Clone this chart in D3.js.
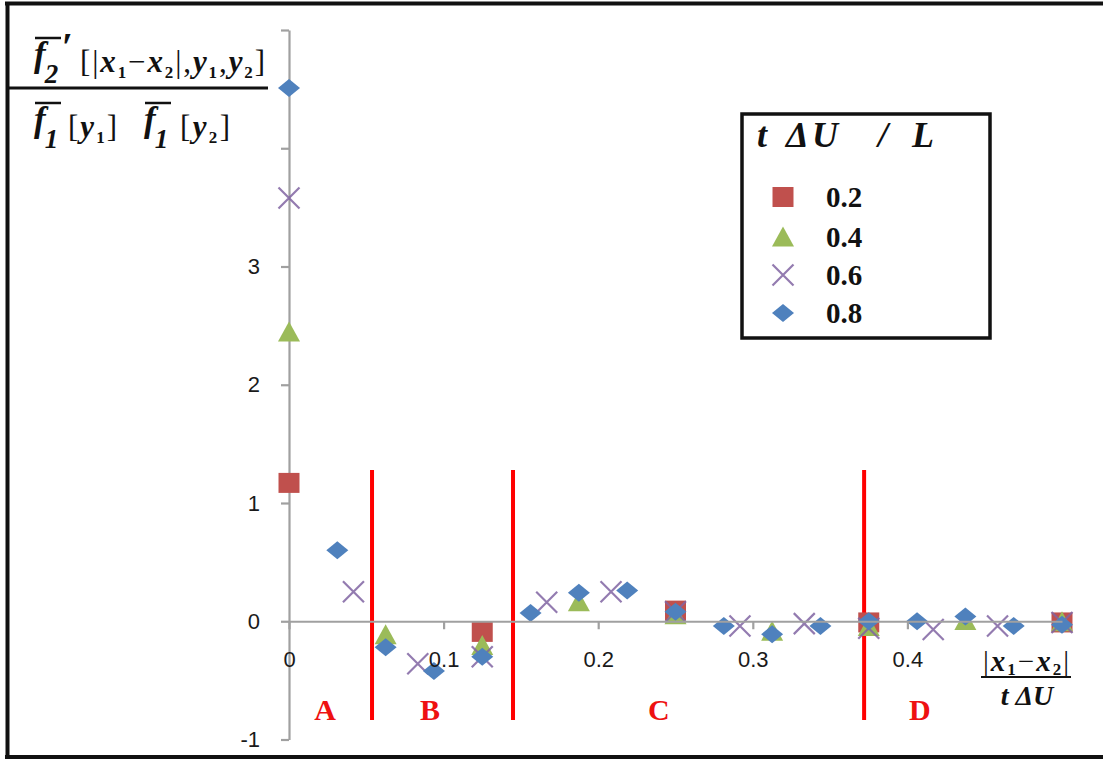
<!DOCTYPE html>
<html>
<head>
<meta charset="utf-8">
<script src="https://cdn.jsdelivr.net/npm/d3@7"></script>
<style>
  body { margin: 0; background: #fff; }
  svg { display: block; }
  text { font-family: "Liberation Serif", "Times New Roman", serif; }
  .tick text { font-family: "Liberation Sans", Arial, sans-serif; }
</style>
</head>
<body>
<svg id="chart" width="1103" height="759"></svg>
<script>
// ---- data: normalised two-point correlation vs separation ----
const seriesNames = ["0.2", "0.4", "0.6", "0.8"];

const x02 = [0, 0.125, 0.25, 0.375, 0.5];
const y02 = [1.17, -0.09, 0.09, -0.01, -0.01];

const x04 = [0, 0.0625, 0.125, 0.1875, 0.25, 0.3125, 0.375, 0.4375, 0.5];
const y04 = [2.45, -0.11, -0.2, 0.17, 0.06, -0.08, -0.04, 0.01, 0.0];

const x06 = [0, 0.0417, 0.0833, 0.125, 0.1667, 0.2083, 0.25, 0.2917, 0.3333, 0.375, 0.4167, 0.4583, 0.5];
const y06 = [3.58, 0.25, -0.36, -0.30, 0.16, 0.25, 0.08, -0.04, -0.02, -0.06, -0.07, -0.04, -0.01];

const x08 = [0, 0.03125, 0.0625, 0.09375, 0.125, 0.15625, 0.1875, 0.21875, 0.25, 0.28125,
             0.3125, 0.34375, 0.375, 0.40625, 0.4375, 0.46875, 0.5];
const y08 = [4.51, 0.60, -0.22, -0.42, -0.30, 0.07, 0.24, 0.26, 0.08, -0.04,
             -0.11, -0.04, 0.0, 0.0, 0.04, -0.04, -0.03];

const seriesColors = ["#C0504D", "#9BBB59", "#8064A2", "#4F81BD"];
const seriesShapes = ["square", "triangle", "cross", "diamond"];

const xTicks = [0, 0.1, 0.2, 0.3, 0.4];
const xTickLabels = ["0", "0.1", "0.2", "0.3", "0.4"];
const yTicks = [-1, 0, 1, 2, 3, 4, 5];
const yTickLabels = ["-1", "0", "1", "2", "3", "", ""];

// region boundaries and region names
const dividerX = [0.0537, 0.1449, 0.372];
const dividerSpan = [-0.835, 1.28];
const regionNames = ["A", "B", "C", "D"];
const regionX = [0.0233, 0.0912, 0.2393, 0.408];
const regionY = -0.835;

// ---- setup ----
const svg = d3.select("#chart");
const W = 1103, H = 759;

svg.append("rect").attr("width", W).attr("height", H).attr("fill", "#fff");

const x = d3.scaleLinear().domain([0, 0.5]).range([289, 1062]);
const y = d3.scaleLinear().domain([-1, 5]).range([739.5, 30]);

// outer frame
const frame = svg.append("g").attr("stroke", "#111").attr("stroke-width", 4);
frame.append("line").attr("x1", 5).attr("x2", W).attr("y1", 3.5).attr("y2", 3.5);
frame.append("line").attr("x1", 7.5).attr("x2", 7.5).attr("y1", 2).attr("y2", H);
frame.append("line").attr("x1", 5).attr("x2", W).attr("y1", 757).attr("y2", 757);

// ---- axes ----
const axisColor = "#a0a0a0";
const yAxis = d3.axisLeft(y).tickValues(yTicks)
  .tickFormat((d, i) => yTickLabels[i]).tickSize(8).tickSizeOuter(0).tickPadding(21);
const yg = svg.append("g").attr("transform", `translate(${x(0)},0)`).call(yAxis);

const xAxis = d3.axisBottom(x).tickValues(xTicks)
  .tickFormat((d, i) => xTickLabels[i]).tickSize(8).tickSizeOuter(0).tickPadding(22);
const xg = svg.append("g").attr("transform", `translate(0,${y(0)})`).call(xAxis);

[yg, xg].forEach(g => {
  g.select(".domain").attr("stroke", axisColor).attr("stroke-width", 2.2);
  g.selectAll(".tick line").attr("stroke", axisColor).attr("stroke-width", 2.2);
  g.selectAll(".tick text").attr("fill", "#1a1a1a").attr("font-size", 22);
});

// ---- region dividers ----
svg.append("g").selectAll("line").data(dividerX).join("line")
  .attr("x1", d => x(d)).attr("x2", d => x(d))
  .attr("y1", y(dividerSpan[1])).attr("y2", y(dividerSpan[0]))
  .attr("stroke", "#ff0000").attr("stroke-width", 4);

svg.append("g").selectAll("text").data(regionNames).join("text")
  .attr("x", (d, i) => x(regionX[i])).attr("y", y(regionY))
  .attr("text-anchor", "middle").attr("font-size", 30).attr("font-weight", "bold")
  .attr("fill", "#ee1111").text(d => d);

// ---- marker shapes ----
function shapePath(kind, w, h) {
  const a = w / 2, b = h / 2;
  switch (kind) {
    case "square":   return `M${-a},${-b}H${a}V${b}H${-a}Z`;
    case "triangle": return `M0,${-b}L${a},${b}L${-a},${b}Z`;
    case "diamond":  return `M0,${-b}L${a},0L0,${b}L${-a},0Z`;
    case "cross":    return `M${-a},${-b}L${a},${b}M${a},${-b}L${-a},${b}`;
  }
}
const shapeSize = { square: [21, 20], triangle: [22, 20], diamond: [22, 18], cross: [21, 21] };

function drawMarker(sel, kind, color) {
  const [w, h] = shapeSize[kind];
  sel.attr("d", shapePath(kind, w, h));
  if (kind === "cross") {
    sel.attr("fill", "none").attr("stroke", color).attr("stroke-width", 2.2).attr("opacity", 0.85);
  } else {
    sel.attr("fill", color);
  }
}

const seriesData = [
  d3.zip(x02, y02), d3.zip(x04, y04), d3.zip(x06, y06), d3.zip(x08, y08)
];

const plot = svg.append("g");
seriesData.forEach((pts, si) => {
  plot.append("g").selectAll("path").data(pts).join("path")
    .attr("transform", d => `translate(${x(d[0])},${y(d[1])})`)
    .call(drawMarker, seriesShapes[si], seriesColors[si]);
});
xg.raise();

// ---- legend ----
const leg = svg.append("g");
leg.append("rect").attr("x", 742).attr("y", 114).attr("width", 248).attr("height", 224)
  .attr("fill", "#fff").attr("stroke", "#111").attr("stroke-width", 3.5);

const legTitle = leg.append("text").attr("y", 147).attr("font-size", 36)
  .attr("font-weight", "bold").attr("font-style", "italic").attr("fill", "#111");
[["t", 757], ["Δ", 786], ["U", 812], ["/", 878], ["L", 912]].forEach(([t, px]) =>
  legTitle.append("tspan").attr("x", px).text(t));

const legRowY = [197, 236.5, 275, 313];
seriesNames.forEach((name, i) => {
  leg.append("path").attr("transform", `translate(783,${legRowY[i]})`)
    .call(drawMarker, seriesShapes[i], seriesColors[i]);
  leg.append("text").attr("x", 826).attr("y", legRowY[i] + 10)
    .attr("font-size", 29).attr("font-weight", "bold").attr("fill", "#111").text(name);
});

// ---- y-axis title (fraction) ----
const ytitle = svg.append("g").attr("fill", "#111");
// barred f with a lowered subscript
function fSymbol(g, px, base, sub) {
  g.append("line").attr("x1", px + 1).attr("x2", px + 27).attr("y1", base - 34).attr("y2", base - 34)
    .attr("stroke", "#111").attr("stroke-width", 2.5);
  const t = g.append("text").attr("x", px).attr("y", base - 6)
    .attr("font-weight", "bold").attr("font-style", "italic");
  t.append("tspan").attr("font-size", 35).text("f");
  t.append("tspan").attr("font-size", 27).attr("dx", -1).attr("dy", 17).text(sub);
  return t;
}
function mathText(g, px, base, parts, len, size, subSize, subShift) {
  const t = g.append("text").attr("x", px).attr("y", base).attr("font-size", size);
  if (len) t.attr("textLength", len).attr("lengthAdjust", "spacing");
  let shift = 0;
  parts.forEach(p => {
    const s = t.append("tspan").text(p.t);
    const target = p.sub ? subShift : 0;
    if (target !== shift) { s.attr("dy", target - shift); shift = target; }
    if (p.sub) s.attr("font-size", subSize).attr("font-weight", "bold");
    if (p.it) s.attr("font-style", "italic").attr("font-weight", "bold");
  });
  return t;
}
// numerator
const f2 = fSymbol(ytitle, 34, 72, "2");
f2.append("tspan").attr("font-size", 40).attr("dx", 3).attr("dy", -23).text("′");
mathText(ytitle, 80, 72, [
  { t: "[|" }, { t: "x", it: 1 }, { t: "1", sub: 1 }, { t: "−" }, { t: "x", it: 1 }, { t: "2", sub: 1 },
  { t: "|," }, { t: "y", it: 1 }, { t: "1", sub: 1 }, { t: "," }, { t: "y", it: 1 }, { t: "2", sub: 1 }, { t: "]" }
], 185, 31, 17, 6);
// fraction bar
ytitle.append("line").attr("x1", 8).attr("x2", 268).attr("y1", 88).attr("y2", 88)
  .attr("stroke", "#111").attr("stroke-width", 3);
// denominator
fSymbol(ytitle, 34, 137, "1");
mathText(ytitle, 68, 137, [{ t: "[" }, { t: "y", it: 1 }, { t: "1", sub: 1 }, { t: "]" }], 49, 31, 17, 6);
fSymbol(ytitle, 144, 137, "1");
mathText(ytitle, 180, 137, [{ t: "[" }, { t: "y", it: 1 }, { t: "2", sub: 1 }, { t: "]" }], 50, 31, 17, 6);

// ---- x-axis title (fraction) ----
const xtitle = svg.append("g").attr("fill", "#111");
mathText(xtitle, 983, 671, [
  { t: "|" }, { t: "x", it: 1 }, { t: "1", sub: 1 }, { t: "−" }, { t: "x", it: 1 }, { t: "2", sub: 1 }, { t: "|" }
], 86, 29, 17, 4);
xtitle.append("line").attr("x1", 981).attr("x2", 1071).attr("y1", 677).attr("y2", 677)
  .attr("stroke", "#111").attr("stroke-width", 2);
xtitle.append("text").attr("x", 1027).attr("y", 705).attr("text-anchor", "middle")
  .attr("font-size", 28).attr("font-weight", "bold").attr("font-style", "italic")
  .text("t ΔU");
</script>
</body>
</html>
